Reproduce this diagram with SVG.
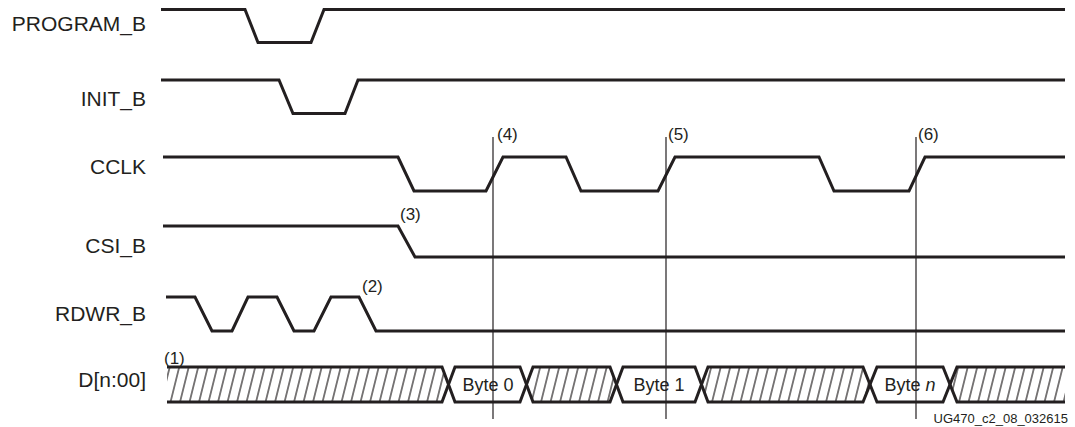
<svg xmlns="http://www.w3.org/2000/svg" width="1075" height="427" viewBox="0 0 1075 427">
<defs>
<style>
.sig{fill:none;stroke:#231f20;stroke-width:3;stroke-linejoin:miter}
.lbl{font-family:"Liberation Sans",Arial,sans-serif;font-size:21px;fill:#231f20;text-anchor:end}
.ann{font-family:"Liberation Sans",Arial,sans-serif;font-size:17px;fill:#231f20}
.byte{font-family:"Liberation Sans",Arial,sans-serif;font-size:18px;fill:#231f20;text-anchor:middle}
.mark{stroke:#231f20;stroke-width:1.2;fill:none}
.hatchfill{fill:url(#hatch);stroke:none}
</style>
<pattern id="hatch" patternUnits="userSpaceOnUse" width="9.5" height="10" patternTransform="skewX(-14)">
<line x1="4.75" y1="-1" x2="4.75" y2="11" stroke="#231f20" stroke-width="1.2"/>
</pattern>
</defs>
<rect width="1075" height="427" fill="#ffffff"/>

<g id="program_b">
<text class="lbl" x="146" y="31">PROGRAM_B</text>
<path class="sig" d="M161,9.5 H245 L258,42.5 H311 L324,9.5 H1065"/>
</g>

<g id="init_b">
<text class="lbl" x="146" y="106">INIT_B</text>
<path class="sig" d="M161,80 H279 L293,113.5 H345 L358,80 H1065"/>
</g>

<g id="cclk">
<text class="lbl" x="146" y="174">CCLK</text>
<path class="sig" d="M163,157 H398 L414,191 H486 L503,157 H566 L581,191 H658 L675,157 H819 L834,191 H909 L925,157 H1065"/>
</g>

<g id="csi_b">
<text class="lbl" x="146" y="252.5">CSI_B</text>
<path class="sig" d="M163,226 H398 L415,257 H1065"/>
<text class="ann" x="400" y="220">(3)</text>
</g>

<g id="rdwr_b">
<text class="lbl" x="146" y="321">RDWR_B</text>
<path class="sig" d="M166,297 H195 L212,331 H232 L248,297 H277 L294,331 H314 L331,297 H359 L376,331 H1065"/>
<text class="ann" x="362" y="292">(2)</text>
</g>

<g id="d_bus">
<text class="lbl" x="146" y="387">D[n:00]</text>
<text class="ann" x="164" y="364">(1)</text>
<path class="hatchfill" d="M167,367 H442 L448.5,384.5 L442,402 H167 Z"/>
<path class="hatchfill" d="M526.5,384.5 L533,367 H610 L616.5,384.5 L610,402 H533 Z"/>
<path class="hatchfill" d="M701.5,384.5 L708,367 H863 L870,384.5 L863,402 H708 Z"/>
<path class="hatchfill" d="M950,384.5 L957,367 H1065 V402 H957 Z"/>
<path class="sig" d="M167,367 H442 L448.5,384.5 L442,402 H167"/>
<path class="sig" d="M448.5,384.5 L455,367 H520 L526.5,384.5 L520,402 H455 Z"/>
<path class="sig" d="M526.5,384.5 L533,367 H610 L616.5,384.5 L610,402 H533 Z"/>
<path class="sig" d="M616.5,384.5 L623,367 H695 L701.5,384.5 L695,402 H623 Z"/>
<path class="sig" d="M701.5,384.5 L708,367 H863 L870,384.5 L863,402 H708 Z"/>
<path class="sig" d="M870,384.5 L877,367 H943 L950,384.5 L943,402 H877 Z"/>
<path class="sig" d="M1065,367 H957 L950,384.5 L957,402 H1065"/>
<text class="byte" x="488" y="391">Byte 0</text>
<text class="byte" x="659" y="391">Byte 1</text>
<text class="byte" x="910" y="391">Byte <tspan font-style="italic">n</tspan></text>
</g>

<g id="connectors">
<line class="mark" x1="493" y1="137" x2="493" y2="419"/>
<line class="mark" x1="666" y1="137" x2="666" y2="419"/>
<line class="mark" x1="916" y1="137" x2="916" y2="419"/>
<text class="ann" x="497" y="140">(4)</text>
<text class="ann" x="668" y="140">(5)</text>
<text class="ann" x="918" y="140">(6)</text>
</g>

<text x="1068" y="423" font-family="'Liberation Sans',Arial,sans-serif" font-size="13" fill="#231f20" text-anchor="end">UG470_c2_08_032615</text>
</svg>
